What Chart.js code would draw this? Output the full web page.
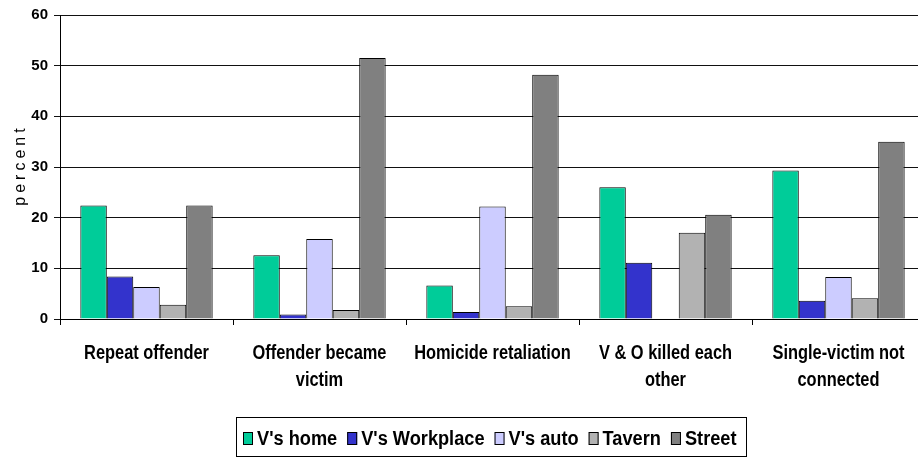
<!DOCTYPE html>
<html><head><meta charset="utf-8">
<script src="https://cdn.jsdelivr.net/npm/chart.js@4.4.0/dist/chart.umd.min.js"></script>
<style>html,body{margin:0;padding:0;overflow:hidden;background:#fff;width:918px;height:458px}
#wrap{width:926px;height:458px;position:relative}</style></head>
<body><div id="wrap"><canvas id="c" width="926" height="458"></canvas></div>
<script>
const categories = [["Repeat offender"],["Offender became","victim"],["Homicide retaliation"],["V & O killed each","other"],["Single-victim not","connected"]];
const seriesNames = ["V's home","V's Workplace","V's auto","Tavern","Street"];
const vHome = [22.4,12.6,6.6,26.0,29.3];
const vWork = [8.4,0.9,1.4,11.1,3.6];
const vAuto = [6.3,15.8,22.2,0,8.3];
const tavern = [2.8,1.8,2.5,17.0,4.1];
const street = [22.4,51.5,48.2,20.6,35.0];
const yTicks = [0,10,20,30,40,50,60];
const colors = ['#00CC99','#3333CC','#CCCCFF','#B2B2B2','#808080'];
const yTitle = 'percent';

const sans = '"Liberation Sans", Arial, sans-serif';
const series = [vHome, vWork, vAuto, tavern, street];

const titlePlugin = {
  id: 'ytitle',
  afterDraw(chart) {
    const ctx = chart.ctx, a = chart.chartArea;
    ctx.save();
    ctx.translate(25, (a.top + a.bottom) / 2);
    ctx.rotate(-Math.PI / 2);
    ctx.font = '16px ' + sans;
    ctx.letterSpacing = '4px';
    ctx.fillStyle = '#000';
    ctx.textAlign = 'center';
    ctx.textBaseline = 'alphabetic';
    ctx.fillText(yTitle, 2, 0);
    ctx.restore();
  }
};

const xLabelPlugin = {
  id: 'xlabels',
  afterDraw(chart) {
    const ctx = chart.ctx, xs = chart.scales.x;
    ctx.save();
    ctx.font = 'bold 20px ' + sans;
    ctx.fillStyle = '#000';
    ctx.textAlign = 'center';
    ctx.textBaseline = 'alphabetic';
    categories.forEach((lines, i) => {
      const x = xs.getPixelForValue(i);
      lines.forEach((ln, j) => {
        ctx.save();
        ctx.translate(x, xs.bottom + 34 + j * 27);
        ctx.scale(0.82, 1);
        ctx.fillText(ln, 0, 0);
        ctx.restore();
      });
    });
    ctx.restore();
  }
};

const legendPlugin = {
  id: 'boxlegend',
  afterDraw(chart) {
    const ctx = chart.ctx, a = chart.chartArea;
    const sx = 0.91, bw = 10, bh = 13, gapT = 4, gapI = 10, padL = 7, padR = 9;
    ctx.save();
    ctx.font = 'bold 20px ' + sans;
    const items = chart.data.datasets.map(d => ({ label: d.label, color: d.backgroundColor, w: ctx.measureText(d.label).width * sx }));
    let total = padL + padR + gapI * (items.length - 1);
    items.forEach(it => total += bw + gapT + it.w);
    const left = Math.round((a.left + a.right) / 2 - 2 - total / 2);
    const top = 417, h = 39;
    ctx.strokeStyle = '#000';
    ctx.lineWidth = 1;
    ctx.strokeRect(left + 0.5, top + 0.5, Math.round(total), h);
    let x = left + padL;
    const base = top + 28;
    items.forEach(it => {
      ctx.fillStyle = it.color;
      ctx.fillRect(x, base - 13, bw, bh);
      ctx.strokeStyle = '#000';
      ctx.strokeRect(x + 0.5, base - 13 + 0.5, bw - 1, bh - 1);
      x += bw + gapT;
      ctx.save();
      ctx.translate(x, base);
      ctx.scale(sx, 1);
      ctx.fillStyle = '#000';
      ctx.textAlign = 'left';
      ctx.textBaseline = 'alphabetic';
      ctx.fillText(it.label, 0, 0);
      ctx.restore();
      x += it.w + gapI;
    });
    ctx.restore();
  }
};

new Chart(document.getElementById('c'), {
  type: 'bar',
  data: {
    labels: categories,
    datasets: seriesNames.map((n, i) => ({
      label: n, data: series[i], backgroundColor: colors[i], borderColor: '#000', borderWidth: 1,
      barPercentage: 1, categoryPercentage: 0.765
    }))
  },
  options: {
    responsive: false, animation: false,
    layout: { padding: { top: 15, right: 1, bottom: 133, left: 0 } },
    plugins: {
      legend: { display: false },
      tooltip: { enabled: false }
    },
    scales: {
      x: {
        grid: { drawOnChartArea: false, offset: true, tickLength: 6, color: '#000', lineWidth: 1 },
        border: { color: '#000', width: 1 },
        ticks: { display: false },
        afterFit(s) { s.height = 6; }
      },
      y: {
        min: 0, max: 60,
        afterBuildTicks(s) { s.ticks = yTicks.map(v => ({ value: v })); },
        grid: { color: '#111', lineWidth: 1, tickLength: 6 },
        border: { color: '#000', width: 1 },
        ticks: { font: { family: sans, size: 15, weight: 'bold' }, color: '#000', padding: 6 },
        afterFit(s) { s.width = 60; }
      }
    }
  },
  plugins: [titlePlugin, xLabelPlugin, legendPlugin]
});
</script></body></html>
